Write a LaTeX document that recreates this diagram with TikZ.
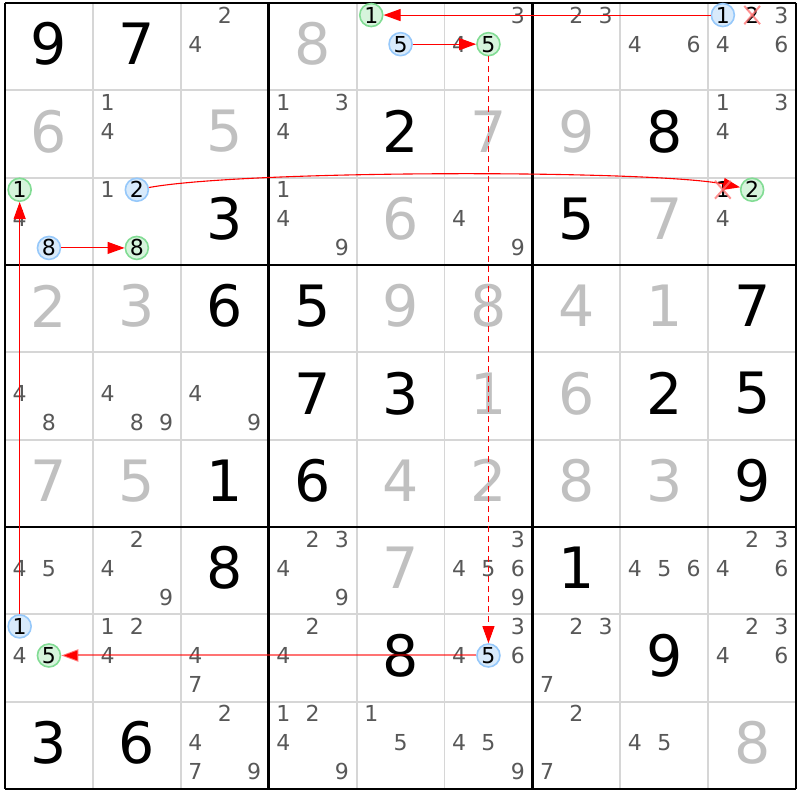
\documentclass[tikz,border=0pt]{standalone}
\usepackage{fontspec}
\setmainfont{DejaVu Sans}
\usetikzlibrary{
    arrows.meta,
    calc
}
\definecolor{bgWhite}{RGB}{255, 255, 255}
\definecolor{gridGray}{RGB}{214, 214, 214}
\definecolor{solvedGray}{RGB}{192, 192, 192}
\definecolor{candGray}{RGB}{88, 88, 88}
\definecolor{linkRed}{RGB}{255, 0, 0}
\definecolor{onBlue}{RGB}{150, 200, 250}
\definecolor{onBlueFill}{RGB}{216, 234, 251}
\definecolor{onGreen}{RGB}{130, 220, 148}
\definecolor{onGreenFill}{RGB}{214, 244, 220}
\definecolor{crossPink}{RGB}{255, 110, 110}
\def\gridX{5}
\def\gridY{3}
\def\cellW{87.9}
\def\cellH{87.33}
\tikzset{
    given/.style={
        font=\fontsize{57}{57}\selectfont,
        text=black,
        inner sep=0pt
    },
    solved/.style={
        given,
        text=solvedGray
    },
    cand/.style={
        font=\fontsize{22}{22}\selectfont,
        text=candGray,
        inner sep=0pt
    },
    onblue/.style={
        cand,
        circle,
        text=black,
        draw=onBlue,
        fill=onBlueFill,
        line width=1.6pt,
        minimum size=23pt
    },
    ongreen/.style={
        onblue,
        draw=onGreen,
        fill=onGreenFill
    },
    crossed/.style={
        cand,
        text=black
    },
    crossmark/.style={
        draw=crossPink,
        line width=2pt,
        opacity=0.75,
        shorten <=-1pt,
        shorten >=-1pt
    },
    thinGrid/.style={
        draw=gridGray,
        line width=1.8pt
    },
    boxGrid/.style={
        draw=black,
        line width=2.6pt
    },
    link/.style={
        draw=linkRed,
        line width=1.1pt,
        -{Triangle[length=17pt, width=12pt]}
    },
    weaklink/.style={
        link,
        dash pattern=on 6pt off 4pt
    },
    faintlink/.style={
        link,
        draw opacity=0.55,
        line width=2pt
    }
}
\newcommand{\givenAt}[3]{%
    \node[given] at ({\gridX+(#2+0.5)*\cellW}, {\gridY+(#1+0.5)*\cellH-2.5}) {#3};}
\newcommand{\solvedAt}[3]{%
    \node[solved] at ({\gridX+(#2+0.5)*\cellW}, {\gridY+(#1+0.5)*\cellH-2.5}) {#3};}
\newcommand{\candAt}[4]{%
    \pgfmathsetmacro\candX{\gridX+#2*\cellW+(mod(#3-1,3)+0.5)*\cellW/3}%
    \pgfmathsetmacro\candY{\gridY+#1*\cellH+(floor((#3-1)/3)+0.5)*\cellH/3-2.5}%
    \node[cand, #4] at (\candX, \candY) {#3};}
\newcommand{\candList}[3]{%
    \foreach \digit in {#3} {\candAt{#1}{#2}{\digit}{}}}

\begin{document}
\begin{tikzpicture}[x=1pt, y=-1pt]
    \useasboundingbox (0,0) rectangle (800, 800);
    \fill[bgWhite] (0,0) rectangle (800, 800);

    % Grid
    \foreach \i in {0,...,9} {
        \draw[thinGrid] ({\gridX+\i*\cellW}, \gridY) -- ({\gridX+\i*\cellW}, {\gridY+9*\cellH});
        \draw[thinGrid] (\gridX, {\gridY+\i*\cellH}) -- ({\gridX+9*\cellW}, {\gridY+\i*\cellH});
    }
    \foreach \i in {0,3,6,9} {
        \draw[boxGrid] ({\gridX+\i*\cellW}, \gridY) -- ({\gridX+\i*\cellW}, {\gridY+9*\cellH});
        \draw[boxGrid] (\gridX, {\gridY+\i*\cellH}) -- ({\gridX+9*\cellW}, {\gridY+\i*\cellH});
    }

    % Row 1
    \givenAt{0}{0}{9} \givenAt{0}{1}{7} \candList{0}{2}{2,4} \solvedAt{0}{3}{8}
    \candAt{0}{4}{1}{ongreen, name=r0c4n1} \candAt{0}{4}{5}{onblue, name=r0c4n5}
    \candList{0}{5}{3,4} \candAt{0}{5}{5}{ongreen, name=r0c5n5}
    \candList{0}{6}{2,3} \candList{0}{7}{4,6}
    \candAt{0}{8}{1}{onblue, name=r0c8n1} \candAt{0}{8}{2}{crossed, name=r0c8n2} \candList{0}{8}{3,4,6}

    % Row 2
    \solvedAt{1}{0}{6} \candList{1}{1}{1,4} \solvedAt{1}{2}{5} \candList{1}{3}{1,3,4}
    \givenAt{1}{4}{2} \solvedAt{1}{5}{7} \solvedAt{1}{6}{9} \givenAt{1}{7}{8} \candList{1}{8}{1,3,4}

    % Row 3
    \candAt{2}{0}{1}{ongreen, name=r2c0n1} \candList{2}{0}{4} \candAt{2}{0}{8}{onblue, name=r2c0n8}
    \candList{2}{1}{1} \candAt{2}{1}{2}{onblue, name=r2c1n2} \candAt{2}{1}{8}{ongreen, name=r2c1n8}
    \givenAt{2}{2}{3} \candList{2}{3}{1,4,9} \solvedAt{2}{4}{6} \candList{2}{5}{4,9}
    \givenAt{2}{6}{5} \solvedAt{2}{7}{7}
    \candAt{2}{8}{1}{crossed, name=r2c8n1} \candAt{2}{8}{2}{ongreen, name=r2c8n2} \candList{2}{8}{4}

    % Row 4
    \solvedAt{3}{0}{2} \solvedAt{3}{1}{3} \givenAt{3}{2}{6} \givenAt{3}{3}{5} \solvedAt{3}{4}{9}
    \solvedAt{3}{5}{8} \solvedAt{3}{6}{4} \solvedAt{3}{7}{1} \givenAt{3}{8}{7}

    % Row 5
    \candList{4}{0}{4,8} \candList{4}{1}{4,8,9} \candList{4}{2}{4,9} \givenAt{4}{3}{7} \givenAt{4}{4}{3}
    \solvedAt{4}{5}{1} \solvedAt{4}{6}{6} \givenAt{4}{7}{2} \givenAt{4}{8}{5}

    % Row 6
    \solvedAt{5}{0}{7} \solvedAt{5}{1}{5} \givenAt{5}{2}{1} \givenAt{5}{3}{6} \solvedAt{5}{4}{4}
    \solvedAt{5}{5}{2} \solvedAt{5}{6}{8} \solvedAt{5}{7}{3} \givenAt{5}{8}{9}

    % Row 7
    \candList{6}{0}{4,5} \candList{6}{1}{2,4,9} \givenAt{6}{2}{8} \candList{6}{3}{2,3,4,9} \solvedAt{6}{4}{7}
    \candList{6}{5}{3,4,5,6,9} \givenAt{6}{6}{1} \candList{6}{7}{4,5,6} \candList{6}{8}{2,3,4,6}

    % Row 8
    \candAt{7}{0}{1}{onblue, name=r7c0n1} \candList{7}{0}{4} \candAt{7}{0}{5}{ongreen, name=r7c0n5}
    \candList{7}{1}{1,2,4} \candList{7}{2}{4,7} \candList{7}{3}{2,4} \givenAt{7}{4}{8}
    \candList{7}{5}{3,4,6} \candAt{7}{5}{5}{onblue, name=r7c5n5}
    \candList{7}{6}{2,3,7} \givenAt{7}{7}{9} \candList{7}{8}{2,3,4,6}

    % Row 9
    \givenAt{8}{0}{3} \givenAt{8}{1}{6} \candList{8}{2}{2,4,7,9} \candList{8}{3}{1,2,4,9} \candList{8}{4}{1,5}
    \candList{8}{5}{4,5,9} \candList{8}{6}{2,7} \candList{8}{7}{4,5} \solvedAt{8}{8}{8}

    % Chain links
    \draw[link] (r0c8n1) -- (r0c4n1);
    \draw[link] (r0c4n5) -- (r0c5n5);
    \draw[weaklink] (r0c5n5) -- (r7c5n5);
    \draw[faintlink] (r7c5n5) -- (r7c0n5);
    \draw[link] (r7c0n1) -- (r2c0n1);
    \draw[link] (r2c0n8) -- (r2c1n8);
    \draw[link] (r2c1n2) .. controls +(110,-20) and +(-100,-20) .. (r2c8n2);

    % Eliminations
    \foreach \n in {r0c8n2, r2c8n1} {
        \draw[crossmark] (\n.north west) -- (\n.south east);
        \draw[crossmark] (\n.north east) -- (\n.south west);
    }
\end{tikzpicture}
\end{document}
